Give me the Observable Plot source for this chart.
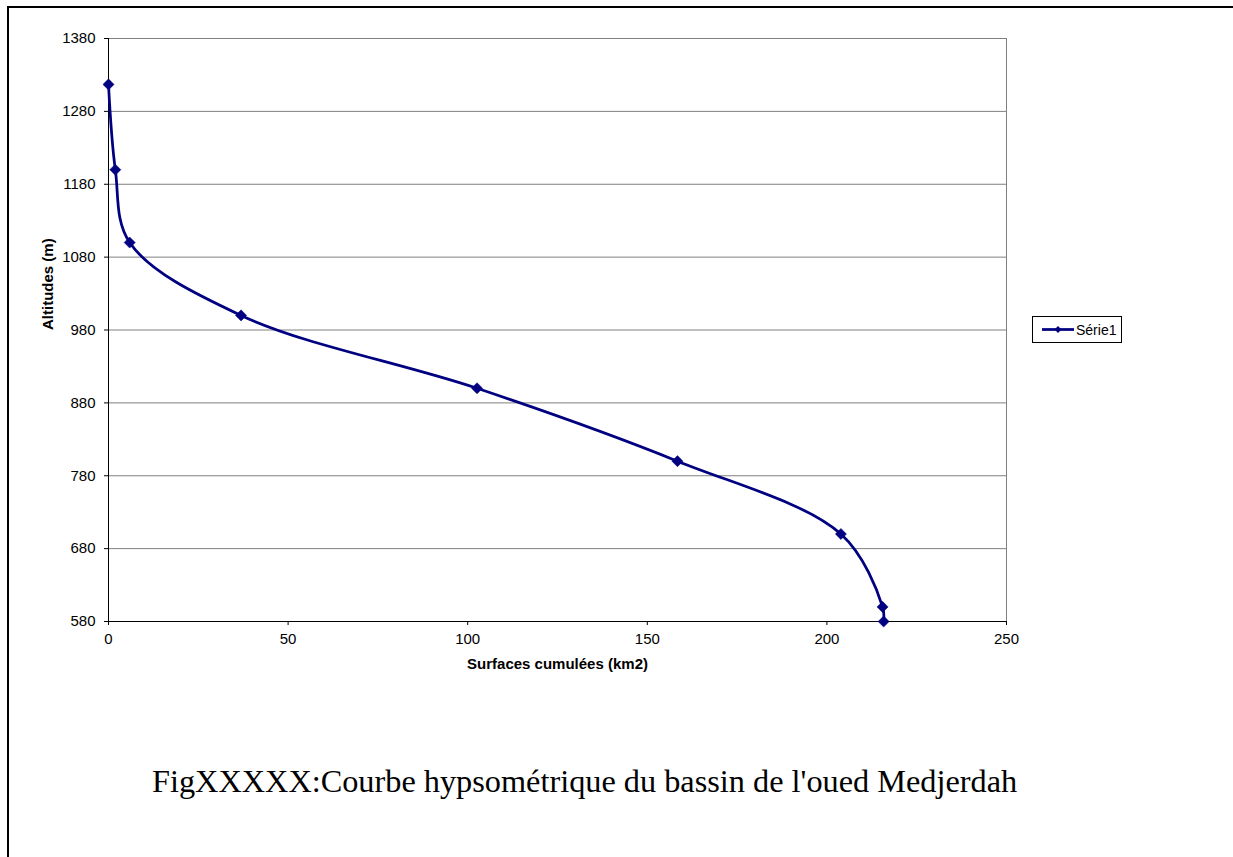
<!DOCTYPE html>
<html>
<head>
<meta charset="utf-8">
<script src="https://cdn.jsdelivr.net/npm/d3@7"></script>
<script src="https://cdn.jsdelivr.net/npm/@observablehq/plot@0.6"></script>
<style>
  html, body { margin: 0; padding: 0; background: #fff; overflow: hidden; }
  body { width: 1233px; height: 857px; position: relative; }
  #frame { position: absolute; left: 7px; top: 6px; width: 1226px; height: 900px; border: 2px solid #000; border-right: none; border-bottom: none; box-sizing: border-box; }
  #chart { position: absolute; left: 0; top: 0; }
  #legend { position: absolute; left: 1032px; top: 316px; }
  #caption { position: absolute; left: 152px; top: 765px; font-family: "Liberation Serif", "Times New Roman", serif; font-size: 32.3px; line-height: 1; white-space: nowrap; color: #000; }
</style>
</head>
<body>
<div id="frame"></div>
<div id="chart"></div>
<div id="legend"></div>
<div id="caption">FigXXXXX:Courbe hypsométrique du bassin de l'oued Medjerdah</div>
<script>
// Hypsometric curve: cumulative area (km²) against altitude (m)
const surfaces = [0, 1.9, 5.9, 36.9, 102.6, 158.4, 203.9, 215.5, 215.8];
const altitudes = [1317, 1200, 1100, 1000, 900, 800, 700, 600, 580];
const xTicks = [0, 50, 100, 150, 200, 250];
const yTicks = [580, 680, 780, 880, 980, 1080, 1180, 1280, 1380];
const seriesName = "Série1";
const xTitle = "Surfaces cumulées (km2)";
const yTitle = "Altitudes (m)";

const data = surfaces.map((s, i) => ({surface: s, altitude: altitudes[i]}));

const navy = "#000080";
const gridGray = "#808080";

const chart = Plot.plot({
  width: 1233,
  height: 700,
  marginLeft: 108,
  marginRight: 227,
  marginTop: 38,
  marginBottom: 79,
  style: {fontFamily: "'Liberation Sans', Arial, sans-serif", fontSize: "15px", background: "transparent", color: "#000"},
  x: {domain: [0, 250]},
  y: {domain: [580, 1380]},
  marks: [
    Plot.ruleY(yTicks.filter(d => d !== 580), {stroke: gridGray, strokeWidth: 1}),
    Plot.ruleX([250], {stroke: gridGray, strokeWidth: 1}),
    Plot.ruleX([0], {stroke: "#000", strokeWidth: 1}),
    Plot.ruleY([580], {stroke: "#000", strokeWidth: 1}),
    Plot.axisY({ticks: yTicks, tickSize: 4, tickPadding: 9, tickFormat: d => String(d), label: null, stroke: "#000"}),
    Plot.axisX({ticks: xTicks, tickSize: 4, tickPadding: 8, tickFormat: d => String(d), label: null, stroke: "#000"}),
    Plot.text([yTitle], {frameAnchor: "left", dx: -60, rotate: -90, fontWeight: "bold", fontSize: 15}),
    Plot.text([xTitle], {frameAnchor: "bottom", dy: 47, fontWeight: "bold", fontSize: 15}),
    Plot.line(data, {x: "surface", y: "altitude", stroke: navy, strokeWidth: 2.75, curve: "catmull-rom"}),
    Plot.dot(data, {x: "surface", y: "altitude", symbol: "diamond2", r: 5, fill: navy, stroke: navy, strokeWidth: 0.5})
  ]
});
document.getElementById("chart").appendChild(chart);

// Legend box
const lg = d3.select("#legend").append("svg").attr("width", 92).attr("height", 28);
lg.append("rect").attr("x", 0.5).attr("y", 0.5).attr("width", 89).attr("height", 26)
  .attr("fill", "#fff").attr("stroke", "#000").attr("stroke-width", 1);
lg.append("line").attr("x1", 10).attr("x2", 42).attr("y1", 13.5).attr("y2", 13.5)
  .attr("stroke", navy).attr("stroke-width", 2.75);
lg.append("path").attr("d", d3.symbol(d3.symbolDiamond2, 30)()).attr("transform", "translate(26,13.5)").attr("fill", navy);
lg.append("text").attr("x", 44).attr("y", 18.5).attr("font-family", "'Liberation Sans', Arial, sans-serif")
  .attr("font-size", 14).attr("fill", "#000").text(seriesName);
</script>
</body>
</html>
